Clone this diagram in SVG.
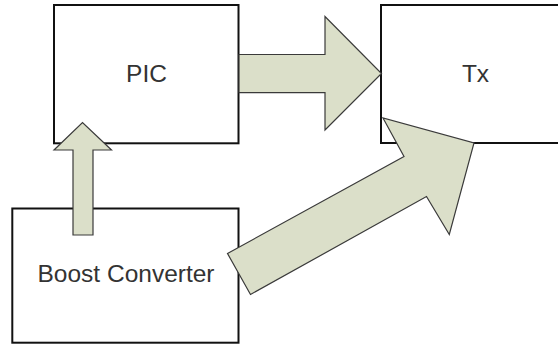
<svg xmlns="http://www.w3.org/2000/svg" width="558" height="345" viewBox="0 0 558 345">
  <style>
    .box { fill: #ffffff; stroke: #111111; stroke-width: 2; }
    .label { font-family: "Liberation Sans", Arial, sans-serif; font-size: 24.5px; fill: #333333; text-anchor: middle; }
    .block-arrow { fill: #dbdfc9; stroke: #3a3a3a; stroke-width: 1.2; stroke-linejoin: miter; }
  </style>
  <rect width="558" height="345" fill="#ffffff"/>

  <g id="pic">
    <rect class="box" x="54" y="5" width="184.5" height="138.3"/>
    <text class="label" x="146.5" y="82">PIC</text>
  </g>

  <g id="tx">
    <rect class="box" x="381" y="5" width="200" height="138"/>
    <text class="label" x="475.5" y="82">Tx</text>
  </g>

  <g id="boost-converter">
    <rect class="box" x="12.3" y="208.5" width="226.2" height="134.2"/>
    <text class="label" x="126" y="282">Boost Converter</text>
  </g>

  <g id="connectors">
    <!-- PIC to Tx -->
    <polygon class="block-arrow" points="239,54.5 325,54.5 325,16.5 381.5,73.5 325,130 325,92.7 239,92.7"/>
    <!-- Boost Converter to PIC -->
    <polygon class="block-arrow" points="73,235 73,150 54,150 82.5,122.5 111.5,150 93,150 93,235"/>
    <!-- Boost Converter to Tx -->
    <polygon class="block-arrow" points="227.5,253.5 404,156.5 383,118 474,143 449.3,234.5 426.5,196.5 250.5,294.5"/>
  </g>
</svg>
